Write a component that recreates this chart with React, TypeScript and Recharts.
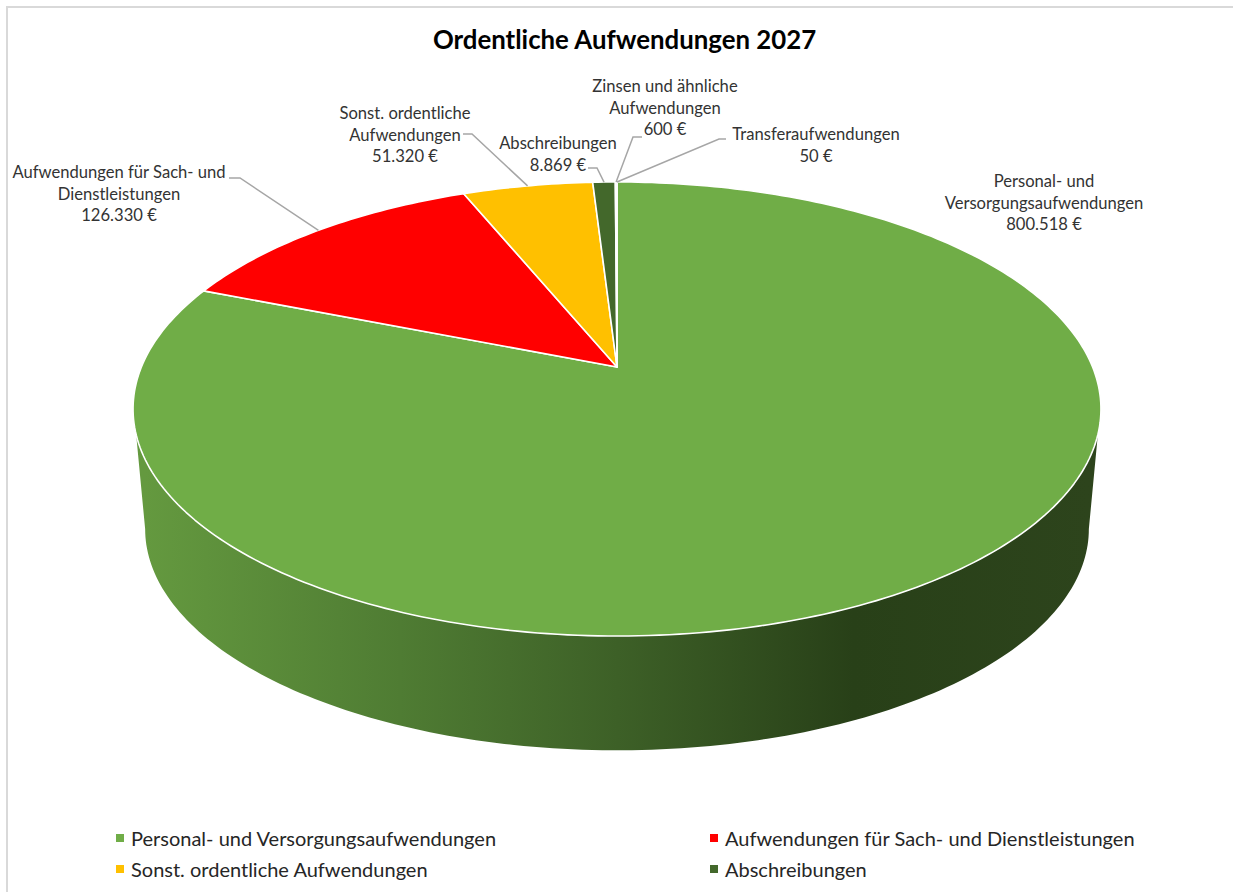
import { PieChart, Pie, Legend } from 'recharts'

const CATEGORIES = [
  'Personal- und Versorgungsaufwendungen',
  'Aufwendungen für Sach- und Dienstleistungen',
  'Sonst. ordentliche Aufwendungen',
  'Abschreibungen',
  'Zinsen und ähnliche Aufwendungen',
  'Transferaufwendungen',
]
const VALUES = [800518, 126330, 51320, 8869, 600, 50]
const COLORS = ['#70AD47', '#FF0000', '#FFC000', '#43682B', '#A5A5A5', '#FFFFFF']
const LABEL_LINES = [
  ['Personal- und', 'Versorgungsaufwendungen'],
  ['Aufwendungen für Sach- und', 'Dienstleistungen'],
  ['Sonst. ordentliche', 'Aufwendungen'],
  ['Abschreibungen'],
  ['Zinsen und ähnliche', 'Aufwendungen'],
  ['Transferaufwendungen'],
]
const LEGEND_COUNT = 4

// label block: centre x, first line y, and the elbow of the leader line (from -> bend)
const LABEL_LAYOUT = [
  { x: 1044, y: 187, leader: null },
  { x: 119, y: 178, leader: [[229, 178], [240, 178]] },
  { x: 405, y: 119, leader: [[463, 134], [472, 134]] },
  { x: 558, y: 149, leader: [[588, 168], [597, 168]] },
  { x: 665, y: 92, leader: [[642, 137], [633, 137]] },
  { x: 816, y: 140, leader: [[726, 139], [719, 139]] },
]

const FONT = 'Lato, "Open Sans", sans-serif'
const CX = 617
const CY = 367
const RADIUS = 475.6
const SQUASH = 0.461
const PERSP = 0.185 // how much the far side of the disc shrinks
const WALL_SCALE = 0.975
const WALL_DROP = 121
const WALL_ID = 'wallGradient'

const data = CATEGORIES.map((name, i) => ({ name, value: VALUES[i], fill: COLORS[i] }))

// angle in recharts degrees (counter clockwise, 0 = east) to a point on the tilted disc
function project(angle: number, cx: number, cy: number, r: number) {
  const a = (angle * Math.PI) / 180
  const u = Math.cos(a)
  const v = Math.sin(a)
  const d = 1 + PERSP * v
  return [cx + (r * u) / d, cy - (r * SQUASH * v) / d]
}

function arc(from: number, to: number, cx: number, cy: number, r: number) {
  const steps = Math.max(2, Math.ceil(Math.abs(to - from)))
  const pts = []
  for (let i = 0; i <= steps; i++) pts.push(project(from + ((to - from) * i) / steps, cx, cy, r))
  return pts
}

const toPath = (pts: number[][]) => 'M' + pts.map((p) => `${p[0].toFixed(2)} ${p[1].toFixed(2)}`).join('L') + 'Z'

function TopSector(props: any) {
  const { cx, cy, outerRadius, startAngle, endAngle, fill } = props
  const pts = [[cx, cy], ...arc(startAngle, endAngle, cx, cy, outerRadius)]
  return <path d={toPath(pts)} fill={fill} stroke="#fff" strokeWidth={1.6} strokeLinejoin="round" />
}

// side wall, only the front part of the disc is ever visible
function WallSector(props: any) {
  const { cx, cy, outerRadius, startAngle, endAngle } = props
  const clampAngle = (a: number, lo: number, hi: number) => Math.min(hi, Math.max(lo, a))
  // front range of the rim and of the lower edge (silhouette tangents differ a little)
  const rimA = clampAngle(startAngle, -163, -17)
  const rimB = clampAngle(endAngle, -163, -17)
  const lowA = clampAngle(startAngle, -169.3, -10.7)
  const lowB = clampAngle(endAngle, -169.3, -10.7)
  if (rimA === rimB) return null
  const rim = arc(rimA, rimB, cx, cy, outerRadius)
  const low = arc(lowB, lowA, cx, cy + WALL_DROP, outerRadius * WALL_SCALE)
  return (
    <g>
      <defs>
        <linearGradient id={WALL_ID} gradientUnits="userSpaceOnUse" x1={145} y1={0} x2={1090} y2={0}>
          <stop offset="0%" stopColor="#64993F" />
          <stop offset="27%" stopColor="#4F7C33" />
          <stop offset="50%" stopColor="#3D6027" />
          <stop offset="75%" stopColor="#284018" />
          <stop offset="100%" stopColor="#2D441C" />
        </linearGradient>
      </defs>
      <path d={toPath([...rim, ...low])} fill={`url(#${WALL_ID})`} />
    </g>
  )
}

function SliceLabel(props: any) {
  const { index, value, midAngle, cx, cy, outerRadius } = props
  const box = LABEL_LAYOUT[index]
  const lines = [...LABEL_LINES[index], `${value.toLocaleString('de-DE')} €`]
  const rim = project(midAngle, cx, cy, outerRadius)
  return (
    <g>
      {box.leader && (
        <polyline
          points={[...box.leader, rim].map((p) => p.join(',')).join(' ')}
          fill="none"
          stroke="#A6A6A6"
          strokeWidth={1.5}
        />
      )}
      <text x={box.x} y={box.y} textAnchor="middle" fontFamily={FONT} fontSize={16.6} fill="#333">
        {lines.map((t, i) => (
          <tspan key={t} x={box.x} dy={i === 0 ? 0 : 21.7}>
            {t}
          </tspan>
        ))}
      </text>
    </g>
  )
}

function LegendBox({ payload }: any) {
  const items = (payload ?? []).filter((it: any) => it.type !== 'none').slice(0, LEGEND_COUNT)
  return (
    <div style={{ position: 'relative', height: 62, fontFamily: FONT, fontSize: 20, color: '#262626' }}>
      {items.map((it: any, i: number) => {
        const left = i % 2 === 0 ? 116 : 710
        const top = i < 2 ? 0 : 30.5
        return (
          <div key={it.value} style={{ position: 'absolute', left, top, height: 24, whiteSpace: 'nowrap' }}>
            <span
              style={{ position: 'absolute', left: 0, top: 8, width: 8, height: 8, background: it.color }}
            />
            <span style={{ position: 'absolute', left: 15, top: 0, lineHeight: '24px' }}>{it.value}</span>
          </div>
        )
      })}
    </div>
  )
}

export default function App() {
  return (
    <div style={{ position: 'absolute', left: 0, top: 0, width: 1233, height: 892, overflow: 'hidden', background: '#fff' }}>
      <div
        style={{
          position: 'absolute',
          left: 6,
          top: 6,
          right: -4,
          bottom: -4,
          borderLeft: '2px solid #D9D9D9',
          borderTop: '2px solid #D9D9D9',
        }}
      />
      <div
        style={{
          position: 'absolute',
          left: 0,
          width: 1249,
          top: 22,
          textAlign: 'center',
          fontFamily: FONT,
          fontWeight: 700,
          fontSize: 25.8,
          lineHeight: '34px',
          color: '#000',
        }}
      >
        Ordentliche Aufwendungen 2027
      </div>
      <div style={{ position: 'absolute', left: 0, top: 0 }}>
        <PieChart width={1233} height={892} margin={{ top: 0, right: 0, bottom: 0, left: 0 }}>
          <Pie
            data={data}
            dataKey="value"
            nameKey="name"
            cx={CX}
            cy={CY}
            outerRadius={RADIUS}
            startAngle={90}
            endAngle={-270}
            legendType="none"
            shape={WallSector}
            isAnimationActive={false}
          />
          <Pie
            data={data}
            dataKey="value"
            nameKey="name"
            cx={CX}
            cy={CY}
            outerRadius={RADIUS}
            startAngle={90}
            endAngle={-270}
            legendType="square"
            shape={TopSector}
            label={SliceLabel}
            labelLine={false}
            isAnimationActive={false}
          />
          <Legend
            content={LegendBox}
            itemSorter={null}
            wrapperStyle={{ position: 'absolute', left: 0, top: 826, width: 1233, height: 62 }}
          />
        </PieChart>
      </div>
    </div>
  )
}
